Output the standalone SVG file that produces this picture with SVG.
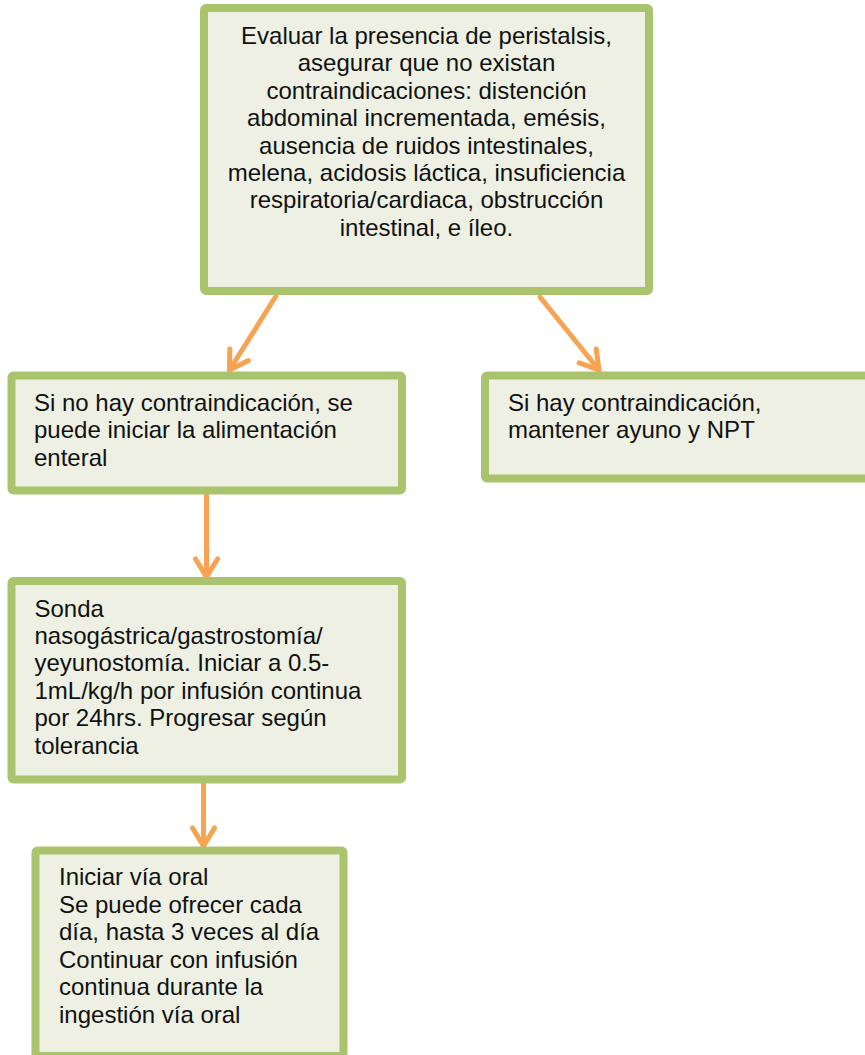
<svg xmlns="http://www.w3.org/2000/svg" width="865" height="1055" viewBox="0 0 865 1055">
<defs>
<style>
.box{fill:#EDF0E3;stroke:#A9C46C;stroke-width:8}
.t{font-family:"Liberation Sans",Arial,sans-serif;font-size:24px;fill:#111}
.c{text-anchor:middle}
.con{stroke:#F8A352;stroke-width:5;fill:none;stroke-linecap:round}
</style>
<marker id="ah" markerUnits="userSpaceOnUse" markerWidth="40" markerHeight="40" refX="0" refY="0" viewBox="-25 -20 30 40" orient="auto" overflow="visible">
<path d="M -18 -11 L 0 0 L -18 11" fill="none" stroke="#F8A352" stroke-width="5" stroke-linecap="round" stroke-linejoin="round"/>
</marker>
</defs>
<rect width="865" height="1055" fill="#fff"/>
<g id="connectors">
<line class="con" x1="276" y1="296" x2="229.5" y2="370" marker-end="url(#ah)"/>
<line class="con" x1="540" y1="297" x2="599" y2="370" marker-end="url(#ah)"/>
<line class="con" x1="206.5" y1="494" x2="206.5" y2="577" marker-end="url(#ah)"/>
<line class="con" x1="203.5" y1="780" x2="203.5" y2="846" marker-end="url(#ah)"/>
</g>
<g id="n1">
<rect class="box" x="204" y="8" width="445" height="283" rx="2"/>
<text class="t c" x="426.5" y="44">Evaluar la presencia de peristalsis,</text>
<text class="t c" x="426.5" y="71.4">asegurar que no existan</text>
<text class="t c" x="426.5" y="98.8">contraindicaciones: distención</text>
<text class="t c" x="426.5" y="126.2">abdominal incrementada, emésis,</text>
<text class="t c" x="426.5" y="153.6">ausencia de ruidos intestinales,</text>
<text class="t c" x="426.5" y="181">melena, acidosis láctica, insuficiencia</text>
<text class="t c" x="426.5" y="208.4">respiratoria/cardiaca, obstrucción</text>
<text class="t c" x="426.5" y="235.8">intestinal, e íleo.</text>
</g>
<g id="n2">
<rect class="box" x="11.5" y="375.5" width="390.5" height="115" rx="2"/>
<text class="t" x="34" y="410.7">Si no hay contraindicación, se</text>
<text class="t" x="34" y="438.2">puede iniciar la alimentación</text>
<text class="t" x="34" y="465.7">enteral</text>
</g>
<g id="n3">
<rect class="box" x="485" y="375.5" width="390" height="103" rx="2"/>
<text class="t" x="508" y="410.7">Si hay contraindicación,</text>
<text class="t" x="508" y="438.2">mantener ayuno y NPT</text>
</g>
<g id="n4">
<rect class="box" x="11.5" y="581" width="390.5" height="198.5" rx="2"/>
<text class="t" x="34.5" y="616.7">Sonda</text>
<text class="t" x="34.5" y="644">nasogástrica/gastrostomía/</text>
<text class="t" x="34.5" y="671.4">yeyunostomía. Iniciar a 0.5-</text>
<text class="t" x="34.5" y="698.8">1mL/kg/h por infusión continua</text>
<text class="t" x="34.5" y="726.2">por 24hrs. Progresar según</text>
<text class="t" x="34.5" y="753.5">tolerancia</text>
</g>
<g id="n5">
<rect class="box" x="35.5" y="850.5" width="308" height="205.5" rx="2"/>
<text class="t" x="59" y="885">Iniciar vía oral</text>
<text class="t" x="59" y="912.6">Se puede ofrecer cada</text>
<text class="t" x="59" y="940.2">día, hasta 3 veces al día</text>
<text class="t" x="59" y="967.8">Continuar con infusión</text>
<text class="t" x="59" y="995.4">continua durante la</text>
<text class="t" x="59" y="1023">ingestión vía oral</text>
</g>
</svg>
